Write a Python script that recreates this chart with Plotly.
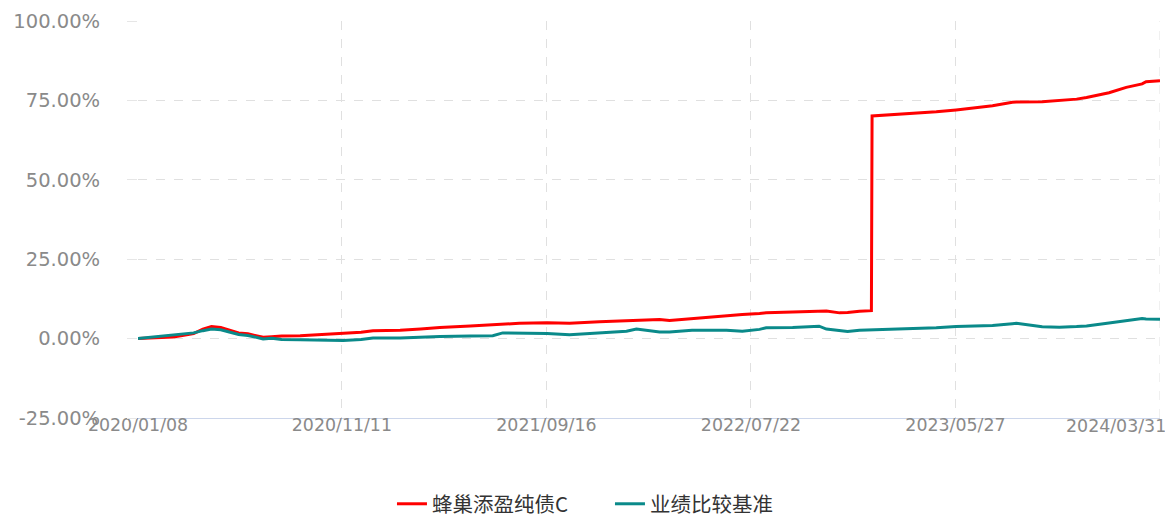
import plotly.graph_objects as go

dates = [
    "2020-01-08", "2020-01-26", "2020-02-15", "2020-03-01", "2020-03-15", "2020-04-01",
    "2020-04-15", "2020-04-28", "2020-05-12", "2020-05-25", "2020-06-08", "2020-06-22",
    "2020-07-06", "2020-07-15", "2020-07-28", "2020-08-12", "2020-09-09", "2020-10-09",
    "2020-11-13", "2020-12-10", "2020-12-28", "2021-02-07", "2021-03-10", "2021-04-08",
    "2021-05-24", "2021-06-27", "2021-07-12", "2021-08-06", "2021-09-17", "2021-10-21",
    "2021-12-05", "2022-01-15", "2022-01-30", "2022-03-06", "2022-03-21", "2022-04-24",
    "2022-06-15", "2022-07-09", "2022-08-04", "2022-08-14", "2022-09-23", "2022-11-02",
    "2022-11-13", "2022-12-03", "2022-12-15", "2023-01-02", "2023-01-20", "2023-01-21",
    "2023-02-21", "2023-04-28", "2023-05-28", "2023-07-22", "2023-08-21", "2023-08-27",
    "2023-10-05", "2023-10-31", "2023-11-26", "2023-12-11", "2024-01-14", "2024-02-09",
    "2024-03-04", "2024-03-10", "2024-03-31",
]

fund_values = [
    0.0, 0.1, 0.2, 0.5, 1.0, 1.6,
    3.0, 3.8, 3.5, 2.6, 1.8, 1.5,
    0.9, 0.4, 0.6, 0.8, 0.9, 1.3,
    1.6, 2.0, 2.5, 2.6, 3.0, 3.5,
    4.0, 4.4, 4.6, 4.8, 5.0, 4.8,
    5.3, 5.6, 5.9, 6.0, 5.7, 6.3,
    7.3, 7.6, 7.9, 8.1, 8.4, 8.8,
    8.7, 8.1, 8.2, 8.6, 8.8, 70.1,
    70.5, 71.4, 72.0, 73.3, 74.4, 74.5,
    74.6, 74.9, 75.4, 75.9, 77.4, 79.1,
    80.2, 80.9, 81.2,
]

bench_values = [
    0.0, 0.4, 0.9, 1.2, 1.4, 1.8,
    2.5, 3.0, 2.8, 2.0, 1.3, 1.0,
    0.4, -0.1, 0.1, -0.3, -0.4, -0.5,
    -0.6, -0.3, 0.2, 0.2, 0.5, 0.7,
    0.8, 0.9, 1.8, 1.8, 1.6, 1.2,
    1.7, 2.3, 3.0, 2.1, 2.1, 2.6,
    2.6, 2.3, 2.9, 3.4, 3.5, 3.9,
    3.0, 2.4, 2.2, 2.6, 2.7, 2.7,
    2.8, 3.4, 3.8, 4.1, 4.7, 4.8,
    3.7, 3.6, 3.8, 4.0, 4.9, 5.6,
    6.3, 6.2, 6.1,
]

series_names = ["蜂巢添盈纯债C", "业绩比较基准"]
series_colors = ["#ff0000", "#0a8a8a"]

x_tick_dates = ["2020-01-08", "2020-11-11", "2021-09-16", "2022-07-22", "2023-05-27", "2024-03-31"]
x_tick_labels = ["2020/01/08", "2020/11/11", "2021/09/16", "2022/07/22", "2023/05/27", "2024/03/31"]
y_tick_vals = [-25, 0, 25, 50, 75, 100]
y_tick_labels = ["-25.00%", "0.00%", "25.00%", "50.00%", "75.00%", "100.00%"]

fig = go.Figure()
for name, vals, color in zip(series_names, [fund_values, bench_values], series_colors):
    fig.add_trace(go.Scatter(
        x=dates, y=vals, mode="lines", name=name,
        line=dict(color=color, width=3),
    ))

x_font = dict(family="DejaVu Sans", size=17.4, color="#8a8a8a")

fig.update_layout(
    width=1173, height=518,
    margin=dict(l=130, r=21, t=13, b=108, autoexpand=False),
    plot_bgcolor="white", paper_bgcolor="white",
    showlegend=True,
    legend=dict(
        orientation="h", x=0.2485, xanchor="left",
        y=-0.2165, yanchor="middle",
        font=dict(family="Noto Sans CJK SC", size=20.5, color="#333333"),
        itemwidth=30, entrywidth=173, entrywidthmode="pixels",
    ),
    xaxis=dict(
        type="date", range=["2020-01-08", "2024-03-31"],
        tickvals=x_tick_dates[:-1], ticktext=x_tick_labels[:-1],
        showgrid=True, gridcolor="#e0e0e0", griddash="dash", gridwidth=1,
        showline=True, linecolor="#ccd6eb", linewidth=1,
        ticks="", tickfont=x_font, zeroline=False,
        ticklabelstandoff=-9, automargin=False,
    ),
    yaxis=dict(
        range=[-25, 100], tickvals=y_tick_vals, ticktext=y_tick_labels,
        showgrid=True, gridcolor="#e0e0e0", griddash="dash", gridwidth=1,
        ticks="outside", ticklen=10, tickcolor="#e6e6e6",
        tickfont=dict(family="DejaVu Sans", size=19.5, color="#8a8a8a"),
        zeroline=False, ticklabelstandoff=23, automargin=False,
    ),
)

# vertical gridline + label for the last date (label right-aligned to stay inside)
fig.add_shape(type="line", xref="x", yref="paper", x0=x_tick_dates[-1], x1=x_tick_dates[-1],
              y0=0, y1=1, line=dict(color="#e0e0e0", width=1, dash="dash"), layer="below")
fig.add_annotation(xref="x", yref="paper", x=x_tick_dates[-1], y=0, yshift=4, xshift=8,
                   text=x_tick_labels[-1], showarrow=False, xanchor="right", yanchor="top",
                   font=x_font)

fig.write_html("out.html")
